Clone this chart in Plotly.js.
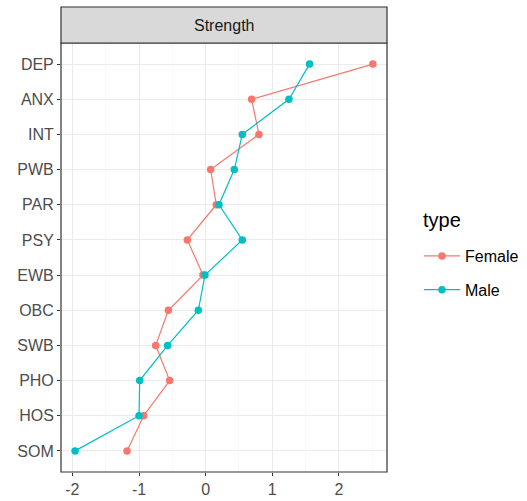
<!DOCTYPE html>
<html><head><meta charset="utf-8">
<script src="https://cdn.plot.ly/plotly-3.0.1.min.js"></script>
<style>html,body{margin:0;padding:0;background:#fff}</style>
</head><body>
<div id="chart" style="width:527px;height:501px"></div>
<script>
const categories = ['DEP','ANX','INT','PWB','PAR','PSY','EWB','OBC','SWB','PHO','HOS','SOM'];
const femaleValues = [2.51, 0.69, 0.80, 0.075, 0.16, -0.275, -0.04, -0.56, -0.75, -0.54, -0.93, -1.18];
const maleValues = [1.56, 1.25, 0.55, 0.43, 0.20, 0.55, -0.01, -0.11, -0.57, -0.99, -1.00, -1.96];
const xTickVals = [-2, -1, 0, 1, 2];
const xTickText = ['-2', '-1', '0', '1', '2'];
const stripLabel = 'Strength';
const legendTitle = 'type';

const font = 'Liberation Sans, Arial, sans-serif';
const traces = [
  {x: femaleValues, y: categories, name: 'Female', legendgroup: 'f', type: 'scatter', mode: 'lines+markers',
   line: {color: '#F8766D', width: 1.2}, marker: {color: '#F8766D', size: 7.5}},
  {x: maleValues, y: categories, name: 'Male', legendgroup: 'm', type: 'scatter', mode: 'lines+markers',
   line: {color: '#00BFC4', width: 1.2}, marker: {color: '#00BFC4', size: 7.5}}
];
const plotH = 501 - 43 - 29;
const plotW = 527 - 61 - 140;
const stripH = 36 / plotH;
const layout = {
  width: 527, height: 501,
  margin: {l: 61, r: 140, t: 43, b: 29, autoexpand: false},
  paper_bgcolor: '#fff', plot_bgcolor: '#fff',
  font: {family: font, color: '#4D4D4D'},
  showlegend: true,
  xaxis: {range: [-2.171, 2.722], tickvals: xTickVals, ticktext: xTickText,
    showgrid: true, gridcolor: '#EBEBEB', gridwidth: 1,
    minor: {dtick: 0.5, tick0: 0, showgrid: true, gridcolor: '#F4F4F4', gridwidth: 0.6},
    zeroline: false, showline: false, ticks: 'outside', ticklen: 3, tickcolor: '#333333', tickwidth: 1,
    tickfont: {size: 16, color: '#4D4D4D', family: font}},
  yaxis: {type: 'category', categoryorder: 'array', categoryarray: categories.slice().reverse(),
    range: [-0.6, 11.6], showgrid: true, gridcolor: '#EBEBEB', gridwidth: 1,
    zeroline: false, showline: false, ticks: 'outside', ticklen: 3, tickcolor: '#333333', tickwidth: 1,
    tickfont: {size: 16, color: '#4D4D4D', family: font}},
  legend: {x: 1 + 32/plotW, xanchor: 'left', y: 1 - (239 - 43)/plotH, yanchor: 'top',
    font: {size: 16, color: '#000', family: font}, tracegroupgap: 10, itemwidth: 36},
  shapes: [
    {type: 'rect', xref: 'paper', yref: 'paper', x0: 0, x1: 1, y0: 0, y1: 1,
     line: {color: '#333333', width: 1.2}, fillcolor: 'rgba(0,0,0,0)', layer: 'above'},
    {type: 'rect', xref: 'paper', yref: 'paper', x0: 0, x1: 1, y0: 1, y1: 1 + stripH,
     line: {color: '#333333', width: 1.2}, fillcolor: '#D9D9D9'}
  ],
  annotations: [
    {text: stripLabel, xref: 'paper', yref: 'paper', x: 0.5, y: 1 + stripH/2,
     xanchor: 'center', yanchor: 'middle', showarrow: false,
     font: {size: 16, color: '#1A1A1A', family: font}},
    {text: legendTitle, xref: 'paper', yref: 'paper', x: 1 + 34/plotW, y: 1 - (220 - 43)/plotH,
     xanchor: 'left', yanchor: 'middle', showarrow: false,
     font: {size: 20, color: '#000', family: font}}
  ]
};
Plotly.newPlot('chart', traces, layout, {displayModeBar: false, staticPlot: true});
</script>
</body></html>
